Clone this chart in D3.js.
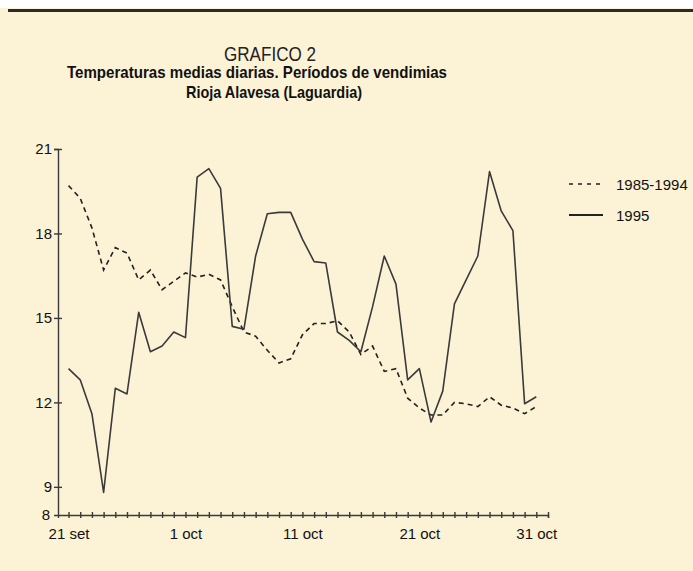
<!DOCTYPE html>
<html>
<head>
<meta charset="utf-8">
<script src="https://cdn.jsdelivr.net/npm/d3@7"></script>
<style>
  body { margin: 0; background: #fff; }
  svg { display: block; font-family: "Liberation Sans", Arial, sans-serif; }
  .axis path, .axis line { stroke: #3a3a3a; stroke-width: 1.4; }
  .axis text { font-size: 15px; fill: #111; }
</style>
</head>
<body>
<div id="chart-area"></div>
<script>
// daily mean temperature, 21 set .. 31 oct
const avg8594 = [19.7, 19.25, 18.2, 16.7, 17.5, 17.3, 16.35, 16.7, 16.0, 16.3,
	16.6, 16.45, 16.55, 16.35, 15.4, 14.5, 14.35, 13.85, 13.4, 13.55,
	14.4, 14.8, 14.8, 14.9, 14.5, 13.7, 14.0, 13.1, 13.2, 12.15,
	11.8, 11.55, 11.55, 12.0, 11.95, 11.85, 12.2, 11.9, 11.8, 11.6, 11.85];
const year1995 = [13.2, 12.8, 11.6, 8.8, 12.5, 12.3, 15.2, 13.8, 14.0, 14.5,
	14.3, 20.0, 20.3, 19.6, 14.7, 14.6, 17.2, 18.7, 18.75, 18.75,
	17.8, 17.0, 16.95, 14.5, 14.2, 13.8, 15.4, 17.2, 16.2, 12.8,
	13.2, 11.3, 12.4, 15.5, 16.35, 17.2, 20.2, 18.8, 18.1, 11.95, 12.2];
const xTickDays = [0, 10, 20, 30, 40];
const xTickLabels = ["21 set", "1 oct", "11 oct", "21 oct", "31 oct"];
const yTicks = [8, 9, 12, 15, 18, 21];
const seriesNames = ["1985-1994", "1995"];

const W = 693, H = 571;

const svg = d3.select("#chart-area").append("svg")
	.attr("width", W)
	.attr("height", H);

svg.append("rect").attr("width", W).attr("height", H).attr("fill", "#fcf3d6");
svg.append("rect").attr("width", W).attr("height", 8).attr("fill", "#fff");
svg.append("rect").attr("x", 8).attr("y", 9).attr("width", W - 8).attr("height", 3).attr("fill", "#2a2a2a");

// titles
svg.append("text")
	.attr("x", 270).attr("y", 61)
	.attr("text-anchor", "middle")
	.attr("textLength", 92)
	.attr("lengthAdjust", "spacingAndGlyphs")
	.style("font-size", "20px")
	.style("fill", "#222")
	.text("GRAFICO 2");

svg.append("text")
	.attr("x", 257).attr("y", 78)
	.attr("text-anchor", "middle")
	.attr("textLength", 380)
	.attr("lengthAdjust", "spacingAndGlyphs")
	.style("font-size", "17px")
	.style("font-weight", "bold")
	.style("fill", "#111")
	.text("Temperaturas medias diarias. Períodos de vendimias");

svg.append("text")
	.attr("x", 274).attr("y", 98)
	.attr("text-anchor", "middle")
	.attr("textLength", 176)
	.attr("lengthAdjust", "spacingAndGlyphs")
	.style("font-size", "17px")
	.style("font-weight", "bold")
	.style("fill", "#111")
	.text("Rioja Alavesa (Laguardia)");

const x = d3.scaleLinear()
	.domain([-0.9, 41])
	.range([58, 548]);

const y = d3.scaleLinear()
	.domain([8, 21])
	.range([515, 149]);

// x axis
const days = d3.range(year1995.length + 1);
const xAxis = svg.append("g")
	.attr("class", "axis")
	.attr("transform", `translate(0,${y(8)})`)
	.call(d3.axisBottom(x)
		.tickValues(days)
		.tickSizeOuter(0)
		.tickSize(3)
		.tickFormat(d => {
			const k = xTickDays.indexOf(d);
			return k >= 0 ? xTickLabels[k] : "";
		}));
xAxis.selectAll(".tick line").attr("y1", -3).attr("y2", 3);
xAxis.selectAll(".tick text").attr("y", 13);

// y axis
const yAxis = svg.append("g")
	.attr("class", "axis")
	.attr("transform", `translate(${x.range()[0]},0)`)
	.call(d3.axisLeft(y)
		.tickValues(yTicks)
		.tickSizeOuter(0)
		.tickSize(4)
		.tickPadding(4));
yAxis.selectAll(".tick line").attr("x1", 4).attr("x2", -4);
yAxis.selectAll(".tick").filter(d => d === 8).select("line").remove();
yAxis.selectAll(".tick text").attr("x", d => d === 8 ? -8 : -6);

const line = d3.line()
	.x((d, i) => x(i))
	.y(d => y(d));

svg.append("path")
	.datum(avg8594)
	.attr("fill", "none")
	.attr("stroke", "#222")
	.attr("stroke-width", 1.6)
	.attr("stroke-dasharray", "5,4")
	.attr("d", line);

svg.append("path")
	.datum(year1995)
	.attr("fill", "none")
	.attr("stroke", "#3a3a3a")
	.attr("stroke-width", 1.6)
	.attr("stroke-linejoin", "round")
	.attr("d", line);

// legend
const legend = svg.append("g").attr("transform", "translate(569,184)");
seriesNames.forEach((name, i) => {
	const row = legend.append("g").attr("transform", `translate(0,${i * 31})`);
	row.append("line")
		.attr("x1", 0).attr("x2", 34)
		.attr("stroke", "#222")
		.attr("stroke-width", i === 0 ? 1.4 : 1.8)
		.attr("stroke-dasharray", i === 0 ? "4,5" : null);
	row.append("text")
		.attr("x", 47).attr("y", 5.5)
		.style("font-size", "15px")
		.style("fill", "#111")
		.text(name);
});
</script>
</body>
</html>
